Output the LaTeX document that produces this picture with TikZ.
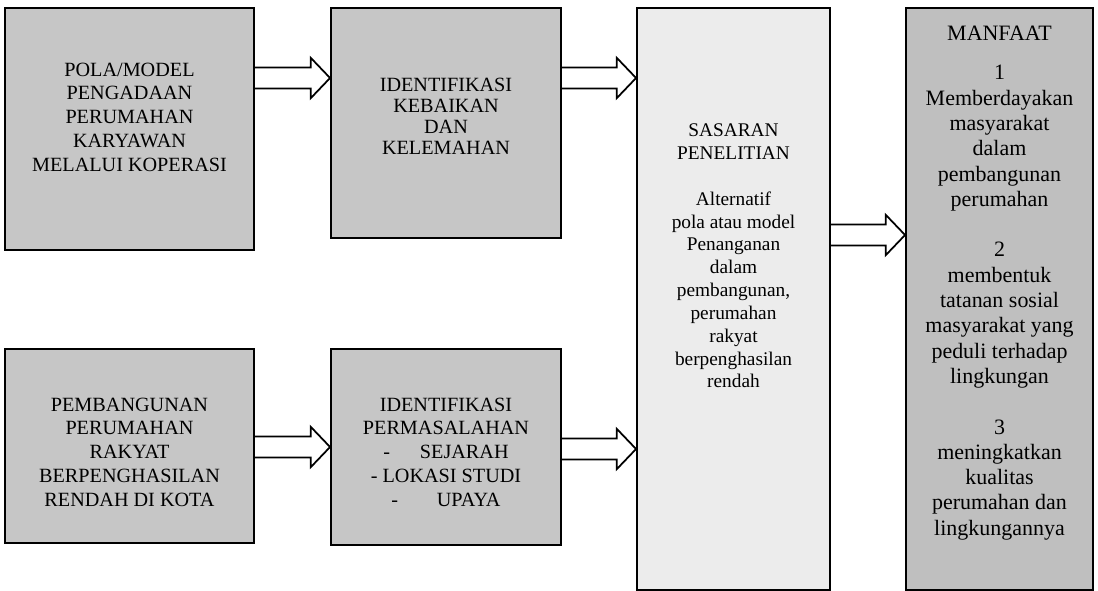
\documentclass[tikz,border=0pt]{standalone}
\usepackage{fontspec}
\setmainfont{Liberation Serif}
\usetikzlibrary{calc}

% hollow block arrow from the east side of #1 to the west side of #2, at height #3
\newcommand{\hollowarrow}[3]{%
  \draw[blockarrow] let \p1=(#1.east |- 0,#3), \p2=(#2.west |- 0,#3) in
    (\x1,\y1+6pt) -- (\x2-11pt,\y1+6pt) -- (\x2-11pt,\y1+11.5pt) -- (\x2,\y1)
    -- (\x2-11pt,\y1-11.5pt) -- (\x2-11pt,\y1-6pt) -- (\x1,\y1-6pt);
}

\begin{document}
\begin{tikzpicture}[
  x=0.02cm, y=-0.02cm,
  box/.style={draw, line width=1.1pt, fill=gray!45, inner sep=0pt},
  lightbox/.style={box, fill=gray!15},
  txt/.style={align=center, inner sep=0pt, font=\fontsize{11.5}{13.5}\selectfont},
  blockarrow/.style={draw, line width=1pt, line join=miter}
]
  \useasboundingbox (0,0) rectangle (1098,591);

  % boxes
  \node[box, minimum width=4.98cm, minimum height=4.84cm] (pola) at (129.5,129) {};
  \node[box, minimum width=4.6cm, minimum height=4.6cm] (kebaikan) at (446,123) {};
  \node[box, minimum width=4.98cm, minimum height=3.88cm] (pembangunan) at (129.5,446) {};
  \node[box, minimum width=4.6cm, minimum height=3.92cm] (masalah) at (446,447) {};
  \node[lightbox, minimum width=3.86cm, minimum height=11.64cm] (sasaran) at (733.5,299) {};
  \node[box, fill=gray!50, minimum width=3.74cm, minimum height=11.64cm] (manfaat) at (999.5,299) {};

  % texts
  \node[txt] (polaText) at (129.5,117) {POLA/MODEL\\PENGADAAN\\PERUMAHAN\\KARYAWAN\\MELALUI KOPERASI};
  \node[txt, font=\fontsize{11.5}{12}\selectfont] (kebaikanText) at (446,116) {IDENTIFIKASI\\KEBAIKAN\\DAN\\KELEMAHAN};
  \node[txt] (pembangunanText) at (129.5,452) {PEMBANGUNAN\\PERUMAHAN\\RAKYAT\\BERPENGHASILAN\\RENDAH DI KOTA};
  \node[txt] (masalahText) at (446,452) {IDENTIFIKASI\\PERMASALAHAN\\-\hspace{17pt}SEJARAH\\- LOKASI STUDI\\-\hspace{22pt}UPAYA};
  \node[txt, font=\fontsize{11}{13}\selectfont] (sasaranText) at (733.5,256)
    {SASARAN\\PENELITIAN\\[13pt]Alternatif\\pola atau model\\Penanganan\\dalam\\pembangunan,\\perumahan\\rakyat\\berpenghasilan\\rendah};
  \node[txt, font=\fontsize{12.5}{14.4}\selectfont] (manfaatText) at (999.5,283)
    {MANFAAT\\[8pt]1\\Memberdayakan\\masyarakat\\dalam\\pembangunan\\perumahan\\[14.4pt]2\\membentuk\\tatanan sosial\\masyarakat yang\\peduli terhadap\\lingkungan\\[14.4pt]3\\meningkatkan\\kualitas\\perumahan dan\\lingkungannya};

  % arrows
  \hollowarrow{pola}{kebaikan}{78}
  \hollowarrow{kebaikan}{sasaran}{78}
  \hollowarrow{pembangunan}{masalah}{447}
  \hollowarrow{masalah}{sasaran}{449}
  \hollowarrow{sasaran}{manfaat}{235}
\end{tikzpicture}
\end{document}
